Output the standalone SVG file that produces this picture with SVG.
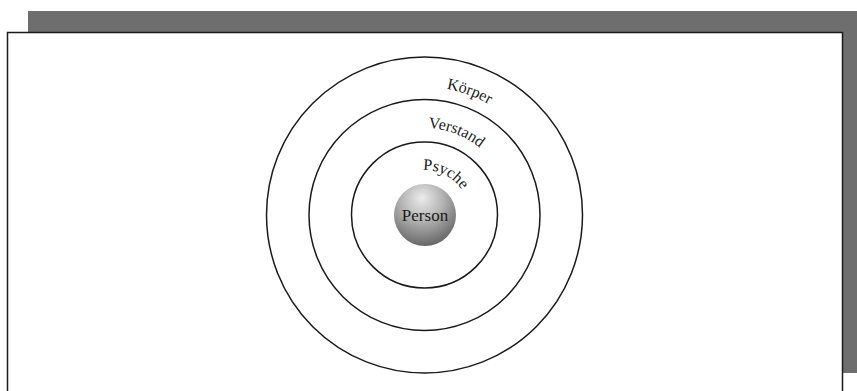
<svg xmlns="http://www.w3.org/2000/svg" width="857" height="391" viewBox="0 0 857 391">
<style>
.ring{fill:none;stroke:#1a1a1a;stroke-width:1.5}
.lbl{font-family:"Liberation Serif","Times New Roman",serif;font-size:16px;fill:#1a1a1a}
</style>
<defs>
<radialGradient id="sph" cx="0.45" cy="0.3" r="0.75" fx="0.45" fy="0.22">
<stop offset="0" stop-color="#ececec"/>
<stop offset="0.45" stop-color="#b4b4b4"/>
<stop offset="1" stop-color="#5e5e5e"/>
</radialGradient>
<path id="pK" d="M380.72,94.72 A128,128 0 0 1 535.35,151"/>
<path id="pV" d="M396.18,132.74 A87,87 0 0 1 500.59,172.82"/>
<path id="pP" d="M414.38,171.15 A45,45 0 0 1 465.92,197.42"/>
</defs>
<rect width="857" height="391" fill="#ffffff"/>
<g id="frame">
<rect x="28" y="11" width="829" height="362" fill="#6e6e6e"/>
<rect x="7.5" y="32.5" width="835" height="370" fill="#ffffff" stroke="#1a1a1a" stroke-width="1.5"/>
</g>
<g id="koerper">
<circle class="ring" cx="424.5" cy="215" r="158"/>
<text class="lbl"><textPath href="#pK" startOffset="50%" text-anchor="middle">Körper</textPath></text>
</g>
<g id="verstand">
<circle class="ring" cx="424.5" cy="215" r="115.5"/>
<text class="lbl"><textPath href="#pV" startOffset="50%" text-anchor="middle">Verstand</textPath></text>
</g>
<g id="psyche">
<circle class="ring" cx="424.5" cy="215" r="73"/>
<text class="lbl"><textPath href="#pP" startOffset="50%" text-anchor="middle">Psyche</textPath></text>
</g>
<g id="person">
<circle cx="425" cy="215" r="31" fill="url(#sph)"/>
<text class="lbl" x="425" y="221" text-anchor="middle" style="font-size:17px">Person</text>
</g>
<g id="connectors"/>
</svg>
